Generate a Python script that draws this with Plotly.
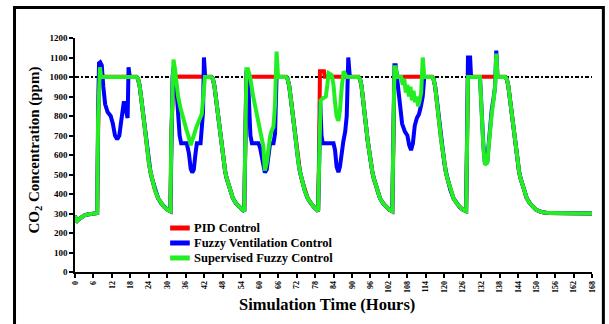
import plotly.graph_objects as go

# ---------------- data (hours, CO2 ppm) ----------------
hours_ticks = list(range(0, 169, 6))
tick_labels = [str(h) for h in hours_ticks]
setpoint_ppm = 1000

# start of the run (shared by all controllers)
start_h = [0, 0.3, 1, 2, 3, 4, 5, 6, 7.2]
start_ppm = [290, 255, 268, 282, 290, 295, 298, 300, 302]

# night-time decay (ventilation off, identical for all controllers)
night_ppm = [990, 955, 895, 820, 745, 675, 615, 560, 515, 480, 420, 378, 352, 333, 320, 312]
night1_h = [20.5, 21.0, 21.5, 22.0, 22.5, 23.0, 23.5, 24.0, 24.5, 25.0, 26.0, 27.0, 28.0, 29.0, 30.0, 31.0]
night2_h = [44.8, 45.3, 45.8, 46.3, 46.8, 47.3, 47.8, 48.3, 48.8, 49.3, 50.3, 51.3, 52.3, 53.3, 54.3, 55.0]
night3_h = [69.1, 69.6, 70.1, 70.6, 71.1, 71.6, 72.1, 72.6, 73.1, 73.6, 74.6, 75.6, 76.6, 77.6, 78.6, 79.0]
night4_h = [92.6, 93.1, 93.6, 94.1, 94.6, 95.1, 95.6, 96.1, 96.6, 97.1, 98.1, 99.1, 100.1, 101.1, 102.1, 103.1]
night5_h = [116.5, 117.0, 117.5, 118.0, 118.5, 119.0, 119.5, 120.0, 120.5, 121.0, 122.0, 123.0, 124.0, 125.0, 126.0, 127.1]
night6_h = [140.3, 140.8, 141.3, 141.8, 142.3, 142.8, 143.3, 143.8, 144.3, 144.8, 145.8, 146.8, 147.8, 148.8, 149.8, 150.8,
            152.0, 154.0, 160.0, 168.0]
night6_ppm = night_ppm + [306, 302, 300, 300]

# PID control, day periods
pid_d1_h = [7.5, 7.8, 8.2, 20.0];          pid_d1_ppm = [700, 1001, 1001, 1001]
pid_d2_h = [31.3, 31.7, 32.0, 44.3];       pid_d2_ppm = [700, 1001, 1003, 1001]
pid_d3_h = [55.3, 55.7, 68.6];             pid_d3_ppm = [700, 1001, 1001]
pid_d4_h = [79.3, 79.6, 80.9, 81.2, 92.1]; pid_d4_ppm = [600, 1030, 1030, 1001, 1001]
pid_d5_h = [103.4, 103.8, 116.0];          pid_d5_ppm = [700, 1001, 1001]
pid_d6_h = [127.4, 127.7, 139.8];          pid_d6_ppm = [700, 1001, 1001]

# Fuzzy ventilation control, day periods
fvc_d1_h = [7.5, 7.8, 8.2, 8.7, 9.2, 9.8, 10.6, 11.6, 12.3, 13.0, 13.7, 14.4, 14.9, 15.4, 15.9, 16.4, 16.8, 17.1, 17.4, 17.8, 20.0]
fvc_d1_ppm = [780, 1070, 1075, 1060, 950, 860, 820, 800, 760, 700, 680, 700, 760, 840, 875, 840, 800, 790, 1050, 1000, 1000]
fvc_d2_h = [31.3, 31.7, 32.0, 32.6, 33.0, 33.5, 34.0, 34.5, 36.3, 37.0, 37.6, 38.1, 38.6, 39.1, 39.6, 40.8, 41.2, 41.6, 41.9, 42.3, 44.3]
fvc_d2_ppm = [700, 1000, 1050, 1000, 930, 800, 700, 660, 660, 610, 530, 510, 525, 600, 660, 660, 720, 820, 1100, 1000, 1000]
fvc_d3_h = [55.3, 55.7, 56.2, 56.6, 57.0, 57.5, 59.6, 60.1, 60.7, 61.2, 61.7, 62.3, 62.8, 63.4, 64.5, 65.0, 65.5, 68.6]
fvc_d3_ppm = [700, 1030, 1000, 870, 700, 660, 660, 640, 590, 540, 510, 525, 610, 660, 660, 710, 1000, 1000]
fvc_d4_h = [79.4, 79.7, 80.1, 80.5, 84.0, 84.5, 85.0, 85.6, 86.1, 86.7, 87.2, 87.8, 88.3, 88.8, 89.3, 92.1]
fvc_d4_ppm = [600, 870, 700, 660, 660, 625, 540, 512, 540, 640, 670, 720, 800, 1100, 1000, 1000]
fvc_d5_h = [103.4, 103.8, 104.2, 104.6, 105.0, 105.6, 106.3, 107.2, 108.0, 108.6, 109.2, 109.8, 110.4, 111.1, 111.8, 112.4, 113.0, 113.5, 116.0]
fvc_d5_ppm = [700, 1060, 1060, 1000, 920, 820, 760, 720, 700, 650, 625, 660, 750, 790, 810, 850, 900, 1000, 1000]
fvc_d6_h = [127.4, 127.7, 128.4, 128.7, 131.6, 132.2, 132.7, 133.2, 134.0, 134.4, 134.9, 135.4, 136.0, 136.5, 136.9, 137.3, 139.8]
fvc_d6_ppm = [700, 1100, 1100, 1000, 1000, 780, 650, 560, 570, 650, 760, 830, 890, 950, 1135, 1000, 1000]

# Supervised fuzzy control, day periods
sfc_d1_h = [7.5, 7.8, 8.1, 8.5, 20.0]
sfc_d1_ppm = [780, 1050, 1050, 1000, 1000]
sfc_d2_h = [31.3, 31.7, 32.0, 32.5, 33.0, 33.5, 34.3, 35.2, 36.2, 37.0, 37.6, 38.2, 38.8, 39.5, 40.4, 41.2, 41.7, 42.2, 44.3]
sfc_d2_ppm = [700, 1000, 1090, 1040, 950, 900, 840, 780, 730, 690, 650, 680, 720, 745, 780, 810, 900, 1000, 1000]
sfc_d3_h = [55.3, 55.7, 56.2, 56.9, 57.9, 59.0, 60.1, 61.2, 61.7, 62.3, 62.8, 63.4, 63.9, 64.5, 65.0, 65.5, 66.0, 68.6]
sfc_d3_ppm = [700, 1040, 1040, 1000, 900, 800, 730, 645, 520, 560, 640, 695, 725, 745, 860, 1130, 1000, 1000]
sfc_d4_h = [79.4, 79.8, 80.5, 81.5, 82.0, 82.4, 83.4, 84.0, 84.5, 85.0, 85.6, 86.1, 86.7, 87.3, 87.9, 88.4, 92.1]
sfc_d4_ppm = [600, 880, 890, 900, 960, 1020, 1010, 960, 870, 800, 775, 830, 950, 1030, 1010, 1000, 1000]
sfc_d5_h = [103.4, 103.8, 104.2, 104.7, 106.0, 106.5, 107.0, 107.5, 108.0, 108.5, 109.0, 109.5, 110.0, 110.5, 111.0, 111.5, 112.0, 112.5, 113.0, 113.5, 116.0]
sfc_d5_ppm = [700, 1050, 1050, 1000, 1000, 960, 990, 920, 960, 900, 950, 880, 930, 870, 900, 850, 880, 920, 1100, 1000, 1000]
sfc_d6_h = [127.4, 127.7, 131.6, 132.2, 132.7, 133.2, 134.0, 134.4, 134.9, 135.4, 136.0, 136.5, 136.9, 137.3, 139.8]
sfc_d6_ppm = [700, 1000, 1000, 780, 640, 550, 560, 640, 745, 810, 880, 950, 1120, 1000, 1000]

series_names = ["PID Control", "Fuzzy Ventilation Control", "Supervised Fuzzy Control"]
series_colors = ["#FF0000", "#0000FF", "#22EE22"]


def run(days_h, days_ppm):
    """Stitch start, day and night segments into one 168 h record."""
    nights_h = [night1_h, night2_h, night3_h, night4_h, night5_h, night6_h]
    nights_ppm = [night_ppm] * 5 + [night6_ppm]
    h, p = list(start_h), list(start_ppm)
    for dh, dp, nh, npm in zip(days_h, days_ppm, nights_h, nights_ppm):
        h += dh + nh
        p += dp + npm
    return h, p


pid_h, pid_ppm = run([pid_d1_h, pid_d2_h, pid_d3_h, pid_d4_h, pid_d5_h, pid_d6_h],
                     [pid_d1_ppm, pid_d2_ppm, pid_d3_ppm, pid_d4_ppm, pid_d5_ppm, pid_d6_ppm])
fvc_h, fvc_ppm = run([fvc_d1_h, fvc_d2_h, fvc_d3_h, fvc_d4_h, fvc_d5_h, fvc_d6_h],
                     [fvc_d1_ppm, fvc_d2_ppm, fvc_d3_ppm, fvc_d4_ppm, fvc_d5_ppm, fvc_d6_ppm])
sfc_h, sfc_ppm = run([sfc_d1_h, sfc_d2_h, sfc_d3_h, sfc_d4_h, sfc_d5_h, sfc_d6_h],
                     [sfc_d1_ppm, sfc_d2_ppm, sfc_d3_ppm, sfc_d4_ppm, sfc_d5_ppm, sfc_d6_ppm])

# ---------------- figure ----------------
SERIF = "Liberation Serif"
fig = go.Figure()

fig.add_trace(go.Scatter(x=[0, 168], y=[setpoint_ppm, setpoint_ppm], mode="lines",
                         line=dict(color="black", width=2, dash="4px,2px,2px,2px"),
                         showlegend=False, hoverinfo="skip"))
for name, color, hx, py in zip(series_names, series_colors,
                               [pid_h, fvc_h, sfc_h], [pid_ppm, fvc_ppm, sfc_ppm]):
    fig.add_trace(go.Scatter(x=hx, y=py, mode="lines", name=name,
                             line=dict(color=color, width=4), showlegend=False))

fig.update_xaxes(range=[0, 168], tickmode="array", tickvals=hours_ticks, ticktext=tick_labels,
                 tickangle=-90, ticks="outside", ticklen=4, tickwidth=1.5, tickcolor="black",
                 showline=True, linewidth=1.5, linecolor="black", showgrid=False, zeroline=False,
                 tickfont=dict(family=SERIF, size=8, color="black", weight="bold"))
fig.update_yaxes(range=[0, 1200], dtick=100, ticks="outside", ticklen=4, tickwidth=1.5, tickcolor="black",
                 showline=True, linewidth=1.5, linecolor="black", showgrid=False, zeroline=False,
                 tickfont=dict(family=SERIF, size=9, color="black", weight="bold"))

# key in the lower-left of the plot: line swatch + label for each controller
key_rows_y = [0.188, 0.124, 0.060]
shapes = [dict(type="rect", xref="paper", yref="paper",
               x0=-0.117, x1=1.022, y0=-0.35, y1=1.13,
               line=dict(color="black", width=3))]
annotations = [
    dict(text="CO<sub>2</sub> Concentration (ppm)", xref="paper", yref="paper",
         x=-0.077, y=0.52, xanchor="center", yanchor="middle", textangle=-90, showarrow=False,
         font=dict(family=SERIF, size=15, color="black", weight="bold")),
    dict(text="Simulation Time (Hours)", xref="paper", yref="paper",
         x=0.487, y=-0.141, xanchor="center", yanchor="middle", showarrow=False,
         font=dict(family=SERIF, size=16.5, color="black", weight="bold")),
]
for name, color, ky in zip(series_names, series_colors, key_rows_y):
    shapes.append(dict(type="line", xref="paper", yref="paper", x0=0.184, x1=0.222, y0=ky, y1=ky,
                       line=dict(color=color, width=5)))
    annotations.append(dict(text=name, xref="paper", yref="paper", x=0.226, y=ky,
                            xanchor="left", yanchor="middle", showarrow=False,
                            font=dict(family=SERIF, size=12.5, color="black", weight="bold")))

fig.update_layout(
    width=609, height=324,
    margin=dict(l=75, r=17, t=38, b=52),
    plot_bgcolor="white", paper_bgcolor="white",
    font=dict(family=SERIF, color="black"),
    showlegend=False,
    annotations=annotations,
    shapes=shapes,
)

fig.write_html("out.html")
